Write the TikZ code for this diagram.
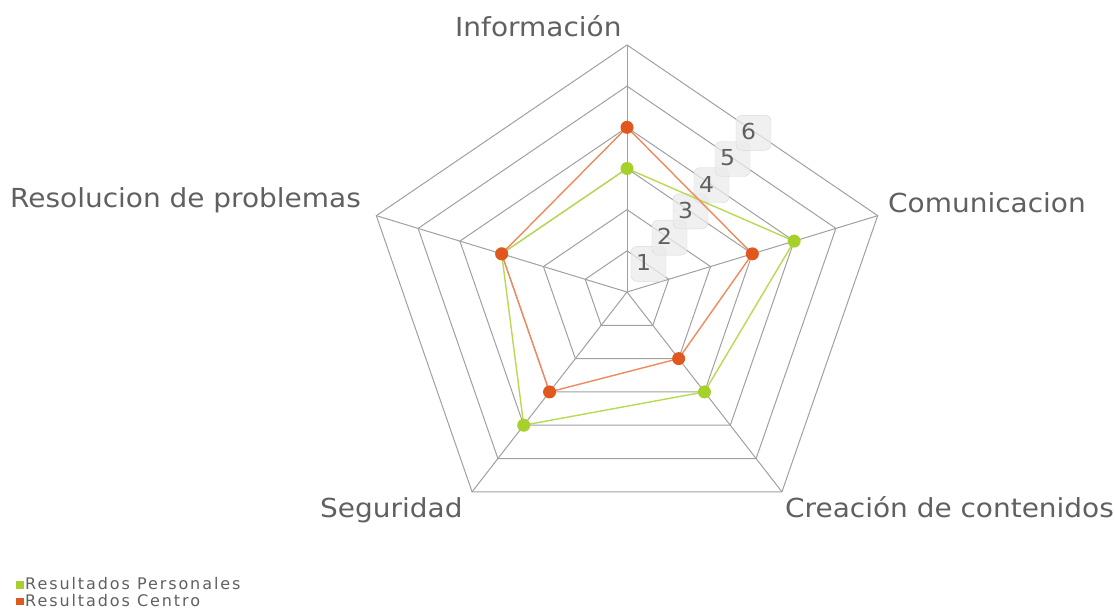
\documentclass[tikz,border=0pt]{standalone}
\usepackage{fontspec}
\usepackage{graphicx}
\setmainfont{DejaVu Sans}
\newfontfamily\legfont[LetterSpace=12]{DejaVu Sans}
\definecolor{txt}{HTML}{606060}
\definecolor{gridc}{HTML}{A0A0A0}
\definecolor{grn}{HTML}{A8D02A}
\definecolor{grnl}{HTML}{B8DA50}
\definecolor{org}{HTML}{E0581F}
\definecolor{orgl}{HTML}{EE8A5C}
\definecolor{boxf}{HTML}{EBEBEB}
\definecolor{boxd}{HTML}{DADADA}
\newcommand\sx[1]{\scalebox{1.067}[1]{#1}}
\begin{document}
\begin{tikzpicture}[x=1pt,y=-1pt,
  gridline/.style={draw=gridc,line width=1},
  axislabel/.style={anchor=base west,inner sep=0,text=txt,font=\fontsize{26.2}{30}\selectfont},
  numbox/.style={draw=boxd,fill=boxf,fill opacity=0.75,rounded corners=6,minimum width=35,minimum height=35,inner sep=0},
  numlab/.style={inner sep=0,text=txt,font=\fontsize{22}{26}\selectfont},
  gline/.style={draw=grnl,line width=1.4},
  oline/.style={draw=orgl,line width=1.4},
  gdot/.style={circle,fill=grn,minimum size=13,inner sep=0},
  odot/.style={circle,fill=org,minimum size=13,inner sep=0},
  legsq/.style={minimum size=7.5,inner sep=0},
  legtxt/.style={anchor=base west,inner sep=0,text=txt,font=\legfont\fontsize{16}{19}\selectfont}
]
\useasboundingbox (0,0) rectangle (1115,614);
\coordinate (c) at (627,292);
% grid coordinates
\foreach \r in {1,...,6}{
  \foreach \a [count=\i] in {90,18,-54,-126,162}{
    \coordinate (g\r-\i) at ({627+43.93*\r*cos(\a)},{292-41.17*\r*sin(\a)});
  }
}
\foreach \r in {1,...,6}{
  \draw[gridline] (g\r-1) -- (g\r-2) -- (g\r-3) -- (g\r-4) -- (g\r-5) -- cycle;
}
\foreach \i in {1,...,5}{
  \draw[gridline] (c) -- (g6-\i);
}
% scale boxes
\foreach \k in {1,...,6}{
  \node[numbox] (b\k) at ({627.5+21*\k},{290-26.2*\k}) {};
  \node[numlab] (n\k) at ({622.5+21*\k},{289-26.2*\k}) {\sx{\k}};
}
% data coordinates
\foreach \a/\v [count=\i] in {90/3,18/4,-54/3,-126/4,162/3}{
  \coordinate (G\i) at ({627+43.93*\v*cos(\a)},{292-41.17*\v*sin(\a)});
}
\foreach \a/\v [count=\i] in {90/4,18/3,-54/2,-126/3,162/3}{
  \coordinate (O\i) at ({627+43.93*\v*cos(\a)},{292-41.17*\v*sin(\a)});
}
\draw[gline] (G1) -- (G2) -- (G3) -- (G4) -- (G5) -- cycle;
\foreach \i in {1,...,5}{ \node[gdot] (gd\i) at (G\i) {}; }
\draw[oline] (O1) -- (O2) -- (O3) -- (O4) -- (O5) -- cycle;
\foreach \i in {1,...,5}{ \node[odot] (od\i) at (O\i) {}; }
% axis labels
\node[axislabel] (lInfo) at (455,36) {\sx{Información}};
\node[axislabel] (lCom) at (888,212) {\sx{Comunicacion}};
\node[axislabel] (lCrea) at (785,517) {\sx{Creación de contenidos}};
\node[axislabel] (lSeg) at (320,517) {\sx{Seguridad}};
\node[axislabel] (lRes) at (10,207) {\sx{Resolucion de problemas}};
% legend
\node[legsq,fill=grn] (lg1) at (20,585) {};
\node[legsq,fill=org] (lg2) at (20,601.5) {};
\node[legtxt] (lt1) at (25,589) {Resultados Personales};
\node[legtxt] (lt2) at (25,606) {Resultados Centro};
\end{tikzpicture}
\end{document}
